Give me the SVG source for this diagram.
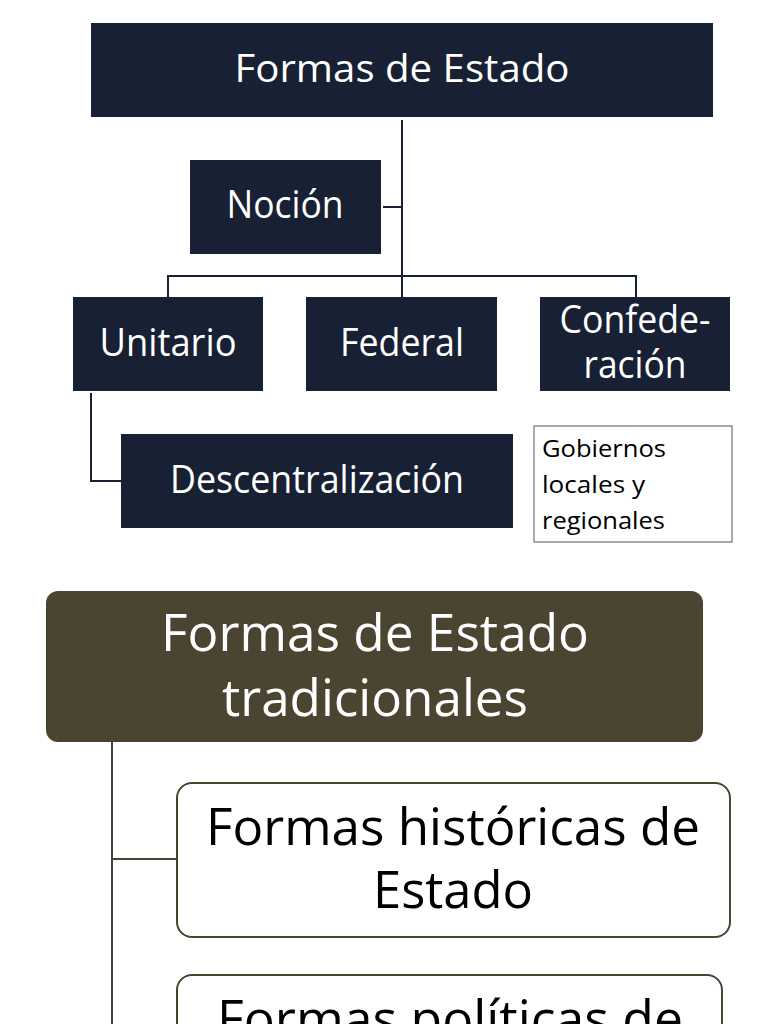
<svg xmlns="http://www.w3.org/2000/svg" width="768" height="1024" viewBox="0 0 768 1024">
<style>
.dk{fill:#172133}
.wt{fill:#ffffff;font-family:"Open Sans","Liberation Sans",sans-serif;text-anchor:middle}
.bk{fill:#000000;font-family:"Open Sans","Liberation Sans",sans-serif}
.ln{stroke:#172133;stroke-width:2;fill:none}
.lb{stroke:#4a4430;stroke-width:2;fill:none}
.wb{fill:#ffffff;stroke:#4a4430;stroke-width:2}
</style>
<rect width="768" height="1024" fill="#ffffff"/>
<g id="connectors">
<path class="ln" d="M402 120 V297 M383 207 H402 M168 297 V276 H636 V297 M91 393 V481 H121"/>
<path class="lb" d="M112 742 V1024 M112 859 H177"/>
</g>
<g id="formas-estado">
<rect class="dk" x="91" y="23" width="622" height="94"/>
<text class="wt" x="402" y="82" font-size="38" textLength="335" lengthAdjust="spacingAndGlyphs">Formas de Estado</text>
</g>
<g id="nocion">
<rect class="dk" x="190" y="160" width="191" height="94"/>
<text class="wt" x="285" y="218" font-size="38" textLength="117" lengthAdjust="spacingAndGlyphs">Noción</text>
</g>
<g id="unitario">
<rect class="dk" x="73" y="297" width="190" height="94"/>
<text class="wt" x="168" y="356" font-size="38" textLength="137" lengthAdjust="spacingAndGlyphs">Unitario</text>
</g>
<g id="federal">
<rect class="dk" x="306" y="297" width="191" height="94"/>
<text class="wt" x="402" y="356" font-size="38" textLength="124" lengthAdjust="spacingAndGlyphs">Federal</text>
</g>
<g id="confederacion">
<rect class="dk" x="540" y="297" width="190" height="94"/>
<text class="wt" x="635" y="333" font-size="38" textLength="151" lengthAdjust="spacingAndGlyphs">Confede-</text>
<text class="wt" x="635" y="378" font-size="38" textLength="103" lengthAdjust="spacingAndGlyphs">ración</text>
</g>
<g id="descentralizacion">
<rect class="dk" x="121" y="434" width="392" height="94"/>
<text class="wt" x="317" y="493" font-size="38" textLength="294" lengthAdjust="spacingAndGlyphs">Descentralización</text>
</g>
<g id="gobiernos">
<rect x="534" y="426" width="198" height="116" fill="#ffffff" stroke="#555555" stroke-width="1"/>
<text class="bk" x="542" y="457" font-size="24" textLength="124" lengthAdjust="spacingAndGlyphs">Gobiernos</text>
<text class="bk" x="542" y="493" font-size="24" textLength="103" lengthAdjust="spacingAndGlyphs">locales y</text>
<text class="bk" x="542" y="529" font-size="24" textLength="123" lengthAdjust="spacingAndGlyphs">regionales</text>
</g>
<g id="tradicionales">
<rect x="46" y="591" width="657" height="151" rx="12" fill="#4a4430"/>
<text class="wt" x="375" y="651" font-size="52" textLength="428" lengthAdjust="spacingAndGlyphs">Formas de Estado</text>
<text class="wt" x="375" y="716" font-size="52" textLength="306" lengthAdjust="spacingAndGlyphs">tradicionales</text>
</g>
<g id="historicas">
<rect class="wb" x="177" y="783" width="553" height="154" rx="15"/>
<text class="bk" x="453" y="845" font-size="52" text-anchor="middle" textLength="494" lengthAdjust="spacingAndGlyphs">Formas históricas de</text>
<text class="bk" x="453" y="908" font-size="52" text-anchor="middle" textLength="160" lengthAdjust="spacingAndGlyphs">Estado</text>
</g>
<g id="politicas">
<rect class="wb" x="177" y="975" width="545" height="154" rx="15"/>
<text class="bk" x="450" y="1037" font-size="52" text-anchor="middle" textLength="466" lengthAdjust="spacingAndGlyphs">Formas políticas de</text>
</g>
</svg>
